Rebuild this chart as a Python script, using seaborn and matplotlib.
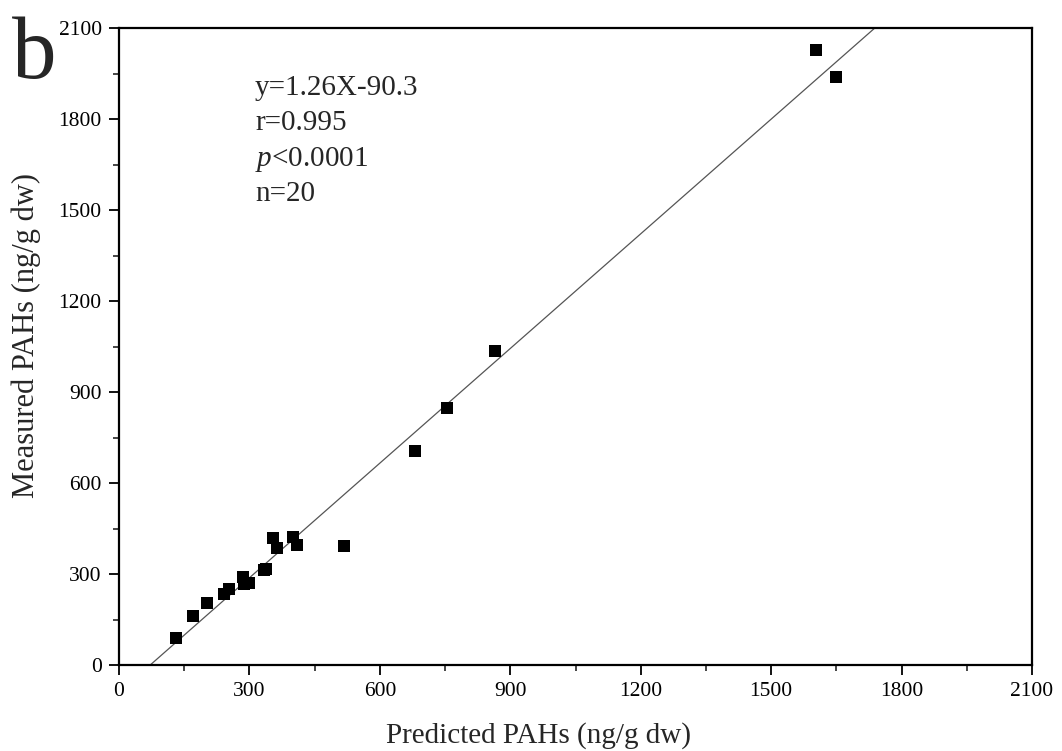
import matplotlib
matplotlib.use("Agg")
import matplotlib.pyplot as plt
import seaborn as sns
import numpy as np
import pandas as pd
from matplotlib.ticker import MultipleLocator

predicted = [131, 170, 202, 242, 252, 284, 288, 300, 334, 338,
             353, 363, 399, 410, 518, 681, 754, 865, 1603, 1649]
measured = [89, 162, 206, 234, 250, 291, 266, 269, 314, 318,
            418, 387, 423, 396, 393, 706, 846, 1035, 2028, 1939]
fit_slope = 1.26
fit_intercept = -90.3
annot_lines = ["y=1.26X-90.3", "r=0.995", "$\\mathit{p}$<0.0001", "n=20"]
ticks = [0, 300, 600, 900, 1200, 1500, 1800, 2100]

sns.set_style("ticks")
plt.rcParams['font.family'] = ['Liberation Serif', 'DejaVu Serif']
plt.rcParams['mathtext.fontset'] = 'custom'
plt.rcParams['mathtext.it'] = 'Liberation Serif:italic'
plt.rcParams['mathtext.rm'] = 'Liberation Serif'

fig = plt.figure(figsize=(10.62, 7.51), dpi=100)
ax = fig.add_axes([0.1121, 0.1145, 0.8597, 0.8482])

df = pd.DataFrame({"Predicted": predicted, "Measured": measured})
xs = np.array([0, 2100])
line_df = pd.DataFrame({"x": xs, "y": fit_slope * xs + fit_intercept})
sns.lineplot(data=line_df, x="x", y="y", ax=ax, color="#555555", linewidth=0.9)
sns.scatterplot(data=df, x="Predicted", y="Measured", ax=ax, marker="s",
                s=70, color="black", linewidth=0, zorder=3)

ax.set_xlim(0, 2100)
ax.set_ylim(0, 2100)
ax.set_xticks(ticks)
ax.set_yticks(ticks)
ax.xaxis.set_minor_locator(MultipleLocator(150))
ax.yaxis.set_minor_locator(MultipleLocator(150))
ax.tick_params(which="major", direction="out", length=7.5, width=1.3,
               labelsize=15.5, pad=5, colors="black")
ax.tick_params(which="minor", direction="out", length=4, width=1.2)
for sp in ax.spines.values():
    sp.set_linewidth(1.6)
    sp.set_color("black")
    sp.set_visible(True)

ax.set_xlabel("Predicted PAHs (ng/g dw)", fontsize=21)
ax.set_ylabel("Measured PAHs (ng/g dw)", fontsize=22)
ax.xaxis.set_label_coords(0.459, -0.089)
ax.yaxis.set_label_coords(-0.086, 0.518)

for i, t in enumerate(annot_lines):
    ax.text(0.149, 0.895 - i * 0.0555, t, transform=ax.transAxes,
            fontsize=21, va="baseline", ha="left")

fig.text(0.011, 1 - 78 / 751, "b", fontsize=64, va="baseline", ha="left")

fig.savefig("out.png", dpi=100)
